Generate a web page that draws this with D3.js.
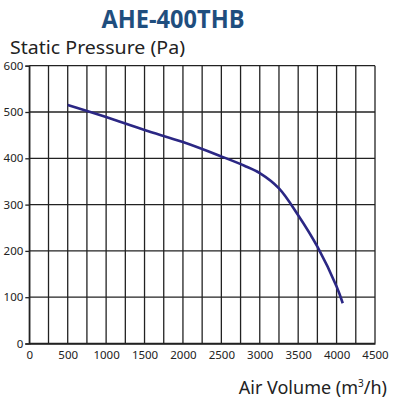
<!DOCTYPE html>
<html><head><meta charset="utf-8">
<script src="https://cdn.jsdelivr.net/npm/d3@7"></script>
<style>body{margin:0;background:#fff}svg{display:block}</style>
</head><body>
<svg id="c" width="393" height="399"></svg>
<script>
const title = "AHE-400THB";
const yTitle = "Static Pressure (Pa)";
const airflow = [500, 1000, 1500, 2000, 2500, 2800, 3000, 3250, 3500, 3750, 4000, 4080];
const pressure = [515, 489, 461, 435, 404, 384, 368, 335, 277, 209, 123, 87];
const xTicks = [0, 500, 1000, 1500, 2000, 2500, 3000, 3500, 4000, 4500];
const xGrid = d3.range(0, 4501, 250);
const yTicks = [0, 100, 200, 300, 400, 500, 600];

const svg = d3.select("#c");
const x = d3.scaleLinear().domain([0, 4500]).range([29.3, 375]);
const y = d3.scaleLinear().domain([0, 600]).range([343.5, 65.7]);
const font = "'Noto Sans', sans-serif";

// grid
svg.append("g").selectAll("line").data(xGrid).join("line")
  .attr("x1", d => x(d)).attr("x2", d => x(d))
  .attr("y1", y(600)).attr("y2", y(0))
  .attr("stroke", "#222").attr("stroke-width", 1.3);
svg.append("g").selectAll("line").data(yTicks).join("line")
  .attr("x1", x(0)).attr("x2", x(4500))
  .attr("y1", d => y(d)).attr("y2", d => y(d))
  .attr("stroke", "#222").attr("stroke-width", 1.3);

// axes
const yAxis = svg.append("g").attr("transform", `translate(${x(0)},0)`)
  .call(d3.axisLeft(y).tickValues(yTicks).tickSize(4).tickPadding(2).tickFormat(d3.format("d")));
const xAxis = svg.append("g").attr("transform", `translate(0,${y(0)})`)
  .call(d3.axisBottom(x).tickValues(xTicks).tickSize(0).tickPadding(7).tickFormat(d3.format("d")));
[yAxis, xAxis].forEach(a => {
  a.select(".domain").attr("stroke", "#222").attr("stroke-width", 1.3);
  a.selectAll(".tick line").attr("stroke", "#222").attr("stroke-width", 1.3);
  a.selectAll("text").attr("font-family", font).attr("font-size", 11.5).attr("fill", "#222");
});

// curve
const pts = airflow.map((v, i) => [v, pressure[i]]);
svg.append("path").datum(pts)
  .attr("d", d3.line().x(d => x(d[0])).y(d => y(d[1])).curve(d3.curveCatmullRom.alpha(0.5)))
  .attr("fill", "none").attr("stroke", "#2b2784").attr("stroke-width", 2.6);

// titles
svg.append("text").attr("x", 173).attr("y", 28).attr("text-anchor", "middle")
  .attr("font-family", "'Liberation Sans Narrow', 'Open Sans', sans-serif")
  .attr("font-weight", "bold").attr("font-size", 25).attr("fill", "#1f4e7e")
  .attr("textLength", 143).attr("lengthAdjust", "spacingAndGlyphs")
  .text(title);
svg.append("text").attr("x", 10).attr("y", 54).attr("font-family", font)
  .attr("font-size", 18).attr("fill", "#222")
  .attr("textLength", 175).attr("lengthAdjust", "spacingAndGlyphs").text(yTitle);
const xt = svg.append("text").attr("x", 387).attr("y", 394).attr("text-anchor", "end")
  .attr("font-family", font).attr("font-size", 18).attr("fill", "#222");
xt.append("tspan").text("Air Volume (m");
xt.append("tspan").attr("font-size", 10).attr("dy", -7).text("3");
xt.append("tspan").attr("dy", 7).text("/h)");
</script>
</body></html>
